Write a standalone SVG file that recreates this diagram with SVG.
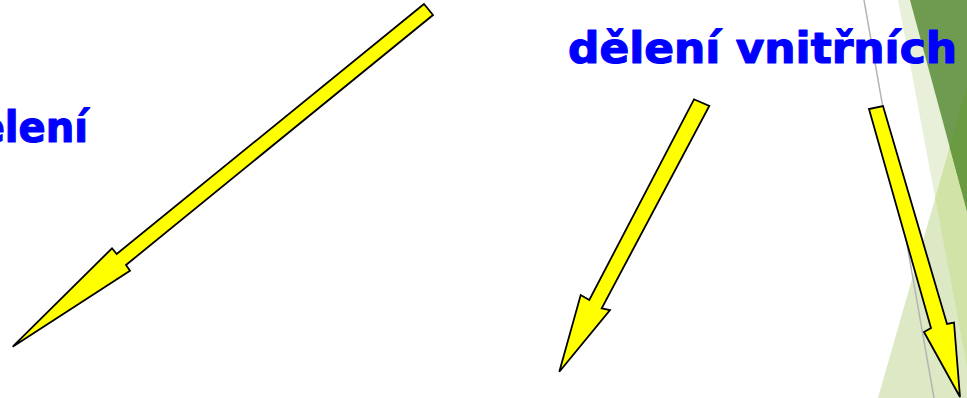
<svg xmlns="http://www.w3.org/2000/svg" width="967" height="398" viewBox="0 0 967 398">
  <style>
    .lbl { font-family: "Comic Sans MS", "DejaVu Sans", "Liberation Sans", sans-serif; font-weight: bold; font-size: 42px; fill: #0000ff; stroke: #0000ff; stroke-width: 1.2; stroke-linejoin: round; }
    .arrow { fill: #ffff00; stroke: #000000; stroke-width: 1.8; stroke-linejoin: miter; }
  </style>
  <rect width="967" height="398" fill="#ffffff"/>
  <g id="decor">
    <polygon points="898,0 967,0 967,367" fill="#e8f0da"/>
    <polygon points="878,398 967,87 967,398" fill="#dde9c5"/>
    <polygon points="935.2,197.8 967,87 967,367" fill="#d2e3a8"/>
    <polygon points="910,0 967,0 967,211" fill="#6f9b51"/>
    <polygon points="949.7,147 967,87 967,211" fill="#6a9a42"/>
    <line x1="864" y1="0" x2="934" y2="398" stroke="#b4b4b4" stroke-width="1.5"/>
  </g>
  <g id="label-left">
    <text class="lbl" x="-51" y="142" textLength="139" lengthAdjust="spacingAndGlyphs">dělení</text>
  </g>
  <g id="label-right">
    <text class="lbl" x="568" y="63" textLength="389" lengthAdjust="spacingAndGlyphs">dělení vnitřních</text>
  </g>
  <g id="connectors">
    <polygon class="arrow" points="424,4 116.7,254 112,248.3 12.7,346.7 130,270.7 126,265 433,15"/>
    <polygon class="arrow" points="694,99.3 589.3,300 580.7,295 559.3,371.7 610,310 601.7,308.3 709.3,106"/>
    <polygon class="arrow" points="869,109 931,328 924,332 960,397 954,322.5 947,324 883,106"/>
  </g>
</svg>
